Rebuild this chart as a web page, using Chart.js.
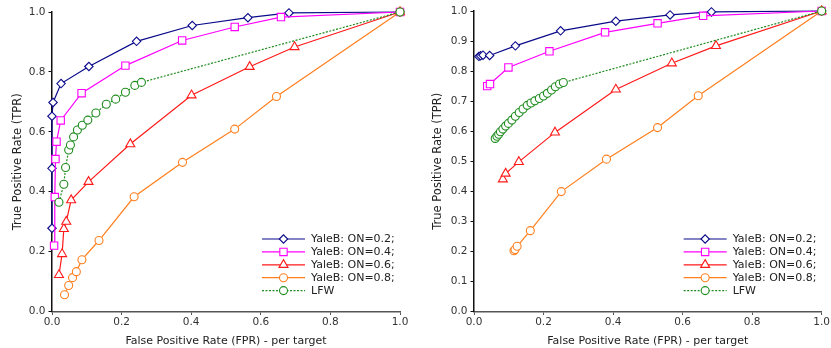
<!DOCTYPE html>
<html>
<head>
<meta charset="utf-8">
<script src="https://cdn.jsdelivr.net/npm/chart.js@4.4.1/dist/chart.umd.min.js"></script>
<style>
    html, body { margin: 0; padding: 0; background: #fff; }
    #wrap { position: relative; width: 831px; height: 348px; }
    .panel { position: absolute; top: 0; height: 348px; }
</style>
</head>
<body>
<div id="wrap">
    <div class="panel" style="left:0;width:416px"><canvas id="rocLeft"></canvas></div>
    <div class="panel" style="left:420px;width:411px"><canvas id="rocRight"></canvas></div>
</div>
<script>
// --- Data ---
const seriesNames = ["YaleB: ON=0.2;", "YaleB: ON=0.4;", "YaleB: ON=0.6;", "YaleB: ON=0.8;", "LFW"];

// left panel
const leftFpr02 = [0, 0, 0, 0.003, 0.026, 0.106, 0.243, 0.403, 0.563, 0.681, 1];
const leftTpr02 = [0.278, 0.478, 0.652, 0.698, 0.761, 0.818, 0.902, 0.955, 0.981, 0.997, 1];
const leftFpr04 = [0.006, 0.008, 0.010, 0.013, 0.025, 0.085, 0.211, 0.374, 0.525, 0.658, 1];
const leftTpr04 = [0.220, 0.382, 0.509, 0.567, 0.638, 0.729, 0.821, 0.905, 0.950, 0.983, 1];
const leftFpr06 = [0.020, 0.029, 0.034, 0.041, 0.055, 0.105, 0.225, 0.401, 0.568, 0.697, 1];
const leftTpr06 = [0.122, 0.192, 0.276, 0.300, 0.372, 0.433, 0.559, 0.722, 0.817, 0.883, 1];
const leftFpr08 = [0.036, 0.048, 0.059, 0.070, 0.086, 0.135, 0.236, 0.375, 0.525, 0.645, 1];
const leftTpr08 = [0.056, 0.087, 0.113, 0.133, 0.173, 0.237, 0.383, 0.498, 0.609, 0.718, 1];
const leftFprLfw = [0.020, 0.034, 0.039, 0.048, 0.053, 0.062, 0.073, 0.087, 0.103, 0.126, 0.156, 0.183, 0.211, 0.238, 0.257, 1];
const leftTprLfw = [0.365, 0.425, 0.481, 0.539, 0.556, 0.583, 0.606, 0.622, 0.639, 0.663, 0.692, 0.709, 0.732, 0.755, 0.765, 1];

// right panel
const rightFpr02 = [0.014, 0.019, 0.026, 0.045, 0.119, 0.249, 0.408, 0.564, 0.683, 1];
const rightTpr02 = [0.849, 0.851, 0.853, 0.852, 0.884, 0.934, 0.966, 0.987, 0.997, 1];
const rightFpr04 = [0.038, 0.046, 0.099, 0.217, 0.377, 0.528, 0.659, 1];
const rightTpr04 = [0.750, 0.757, 0.812, 0.866, 0.929, 0.959, 0.984, 1];
const rightFpr06 = [0.083, 0.091, 0.129, 0.233, 0.408, 0.569, 0.696, 1];
const rightTpr06 = [0.440, 0.459, 0.498, 0.596, 0.739, 0.826, 0.884, 1];
const rightFpr08 = [0.115, 0.118, 0.124, 0.162, 0.251, 0.381, 0.528, 0.645, 1];
const rightTpr08 = [0.202, 0.206, 0.217, 0.269, 0.399, 0.507, 0.612, 0.718, 1];
const rightFprLfw = [0.061, 0.066, 0.071, 0.076, 0.083, 0.091, 0.099, 0.109, 0.119, 0.130, 0.141, 0.153, 0.164, 0.175, 0.188, 0.200, 0.211, 0.223, 0.234, 0.246, 0.257, 1];
const rightTprLfw = [0.576, 0.583, 0.590, 0.598, 0.607, 0.617, 0.626, 0.637, 0.650, 0.662, 0.674, 0.686, 0.694, 0.701, 0.709, 0.717, 0.726, 0.737, 0.748, 0.757, 0.762, 1];

const xTicks = [0, 0.2, 0.4, 0.6, 0.8, 1.0];
const leftYTicks = [0, 0.2, 0.4, 0.6, 0.8, 1.0];
const rightYTicks = [0, 0.1, 0.2, 0.3, 0.4, 0.5, 0.6, 0.7, 0.8, 0.9, 1.0];

// --- Styles ---
const FONT = "'DejaVu Sans', sans-serif";
const styles = [
    { color: "#0a0a8a", pointStyle: "rectRot", radius: 4.2, dash: [] },
    { color: "#ff00ff", pointStyle: "rect", radius: 5.2, dash: [] },
    { color: "#ff1a1a", pointStyle: "triangle", radius: 5.2, dash: [] },
    { color: "#ff7f1e", pointStyle: "circle", radius: 4, dash: [] },
    { color: "#1e8c1e", pointStyle: "circle", radius: 4, dash: [2, 1.5] },
];

function toPoints(xs, ys) {
    return xs.map((x, i) => ({ x: x, y: ys[i] }));
}

function makeDatasets(pairs) {
    return pairs.map((p, i) => ({
        label: seriesNames[i],
        data: toPoints(p[0], p[1]),
        showLine: true,
        borderColor: styles[i].color,
        borderWidth: 1.2,
        borderDash: styles[i].dash,
        pointStyle: styles[i].pointStyle,
        pointRadius: styles[i].radius,
        pointBorderColor: styles[i].color,
        pointBackgroundColor: "#fff",
        pointBorderWidth: 1.1,
        order: pairs.length - i,
        clip: false,
    }));
}

// legend drawn like a matplotlib legend: line sample with marker in the middle
const insideLegend = {
    id: "insideLegend",
    afterDraw(chart) {
        const { ctx, chartArea } = chart;
        const x0 = chartArea.right - 138;
        const x1 = chartArea.right - 95;
        const xm = (x0 + x1) / 2;
        const top = chartArea.bottom - 72.5;
        ctx.save();
        chart.data.datasets.forEach((ds, i) => {
            const y = top + i * 12.9;
            ctx.strokeStyle = ds.borderColor;
            ctx.lineWidth = 1.2;
            ctx.setLineDash(ds.borderDash || []);
            ctx.beginPath();
            ctx.moveTo(x0, y);
            ctx.lineTo(x1, y);
            ctx.stroke();
            ctx.setLineDash([]);
            ctx.fillStyle = "#fff";
            ctx.strokeStyle = ds.borderColor;
            ctx.lineWidth = 1.1;
            Chart.helpers.drawPoint(ctx, {
                pointStyle: ds.pointStyle, rotation: 0,
                radius: ds.pointRadius, borderWidth: 1.1,
            }, xm, y);
            ctx.fillStyle = "#222";
            ctx.font = "11px " + FONT;
            ctx.textBaseline = "middle";
            ctx.textAlign = "left";
            ctx.fillText(ds.label, x1 + 6, y + 0.5);
        });
        ctx.restore();
    },
};

function makeChart(id, datasets, yTicks, yAxisWidth, padTop, padRight) {
    return new Chart(document.getElementById(id).getContext("2d"), {
        type: "scatter",
        data: { datasets: datasets },
        options: {
            responsive: true,
            maintainAspectRatio: false,
            animation: false,
            layout: { padding: { top: padTop, right: padRight, left: 0, bottom: 0 } },
            scales: {
                x: {
                    type: "linear", min: 0, max: 1,
                    afterBuildTicks: s => { s.ticks = xTicks.map(v => ({ value: v })); },
                    afterFit: s => { s.height = 36.5; },
                    ticks: {
                        color: "#333", padding: 1,
                        font: { family: FONT, size: 10.5 },
                        callback: v => v.toFixed(1),
                    },
                    grid: { drawOnChartArea: false, drawTicks: true, tickLength: 3.5, color: "#555" },
                    border: { color: "#555", width: 1.5 },
                    title: {
                        display: true, text: "False Positive Rate (FPR) - per target",
                        color: "#222", font: { family: FONT, size: 11 }, padding: { top: 2, bottom: 0 },
                    },
                },
                y: {
                    type: "linear", min: 0, max: 1,
                    afterBuildTicks: s => { s.ticks = yTicks.map(v => ({ value: v })); },
                    afterFit: s => { s.width = yAxisWidth; },
                    ticks: {
                        color: "#333", padding: 3,
                        font: { family: FONT, size: 10.5 },
                        callback: v => v.toFixed(1),
                    },
                    grid: { drawOnChartArea: false, drawTicks: true, tickLength: 3.5, color: "#111" },
                    border: { color: "#111", width: 1.5 },
                    title: {
                        display: true, text: "True Positive Rate (TPR)",
                        color: "#222", font: { family: FONT, size: 11.5 }, padding: { top: 11, bottom: 0 },
                    },
                },
            },
            plugins: {
                legend: { display: false },
                tooltip: { enabled: false },
            },
        },
        plugins: [insideLegend],
    });
}

makeChart("rocLeft", makeDatasets([
    [leftFpr02, leftTpr02], [leftFpr04, leftTpr04], [leftFpr06, leftTpr06],
    [leftFpr08, leftTpr08], [leftFprLfw, leftTprLfw],
]), leftYTicks, 52, 12, 16);

makeChart("rocRight", makeDatasets([
    [rightFpr02, rightTpr02], [rightFpr04, rightTpr04], [rightFpr06, rightTpr06],
    [rightFpr08, rightTpr08], [rightFprLfw, rightTprLfw],
]), rightYTicks, 54, 11, 7);
</script>
</body>
</html>
